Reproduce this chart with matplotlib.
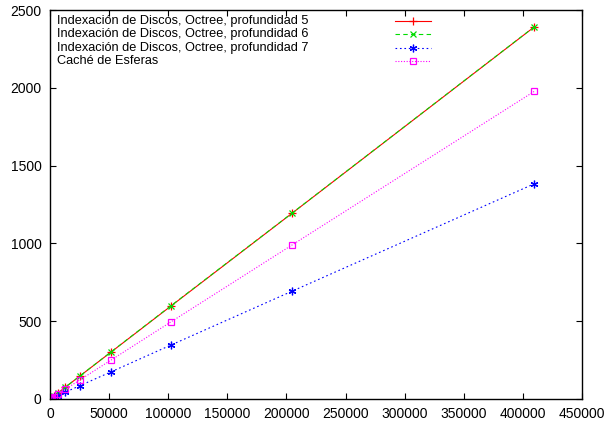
import matplotlib
matplotlib.use("Agg")
import matplotlib.pyplot as plt

plt.rcParams['font.family'] = ['Liberation Sans', 'DejaVu Sans']

# Tamaño del problema (número de elementos)
tamanos = [100, 200, 400, 800, 1600, 3200, 6400, 12800, 25600, 51200, 102400, 204800, 409600]

# Tiempos medidos para cada método
octree_p5 = [0.6, 1.2, 2.3, 4.7, 9.3, 18.7, 37.4, 74.7, 149.5, 299.0, 598.0, 1194.0, 2391.0]
octree_p6 = [0.6, 1.2, 2.4, 4.7, 9.4, 18.8, 37.5, 75.0, 150.0, 300.0, 600.0, 1195.0, 2392.0]
octree_p7 = [0.3, 0.7, 1.4, 2.7, 5.4, 10.8, 21.7, 43.3, 86.6, 173.0, 347.0, 693.0, 1383.0]
esferas = [0.5, 1.0, 1.9, 3.9, 7.7, 15.5, 31.0, 62.0, 124.0, 248.0, 496.0, 990.0, 1977.0]

etiquetas = [
    'Indexación de Discos, Octree, profundidad 5',
    'Indexación de Discos, Octree, profundidad 6',
    'Indexación de Discos, Octree, profundidad 7',
    'Caché de Esferas',
]

estilos = [
    dict(color='#ff0000', linestyle='-', marker='+', ms=5.5),
    dict(color='#00dd00', linestyle=(0, (4, 3)), marker='x', ms=4.5),
    dict(color='#0000ff', linestyle=(0, (1.5, 2.5)), marker=(6, 2, 0), ms=5.5),
    dict(color='#ff00ff', linestyle=(0, (1, 1.5)), marker='s', ms=4.5, mfc='none'),
]

fig = plt.figure(figsize=(6.06, 4.21), dpi=100)
ax = fig.add_axes([50 / 606, 1 - 399 / 421, 532 / 606, 389 / 421])

series = [octree_p5, octree_p6, octree_p7, esferas]
for datos, est in zip(series, estilos):
    ax.plot(tamanos, datos, lw=0.8, mew=0.9, **est)

ax.set_xlim(0, 450000)
ax.set_ylim(0, 2500)
ax.set_xticks(range(0, 450001, 50000))
ax.set_yticks(range(0, 2501, 500))
ax.tick_params(direction='in', length=4, width=0.8, top=True, right=True,
               labelsize=10, pad=6)
for sp in ax.spines.values():
    sp.set_linewidth(1.0)

# Leyenda al estilo gnuplot: texto a la izquierda, muestra a la derecha
filas_y = [20.7, 34.3, 47.6, 61.0]
for etiqueta, est, fy in zip(etiquetas, estilos, filas_y):
    yf = (399 - fy) / 389
    ax.text(7 / 532, yf, etiqueta, transform=ax.transAxes, fontsize=9.2,
            ha='left', va='center')
    ax.plot([345 / 532, 381 / 532], [yf, yf], transform=ax.transAxes,
            color=est['color'], linestyle=est['linestyle'], lw=0.8)
    ax.plot([363 / 532], [yf], transform=ax.transAxes, color=est['color'],
            marker=est['marker'], ms=est['ms'], mfc=est.get('mfc', est['color']),
            mew=0.9, linestyle='none')

fig.savefig('out.png', dpi=100)
